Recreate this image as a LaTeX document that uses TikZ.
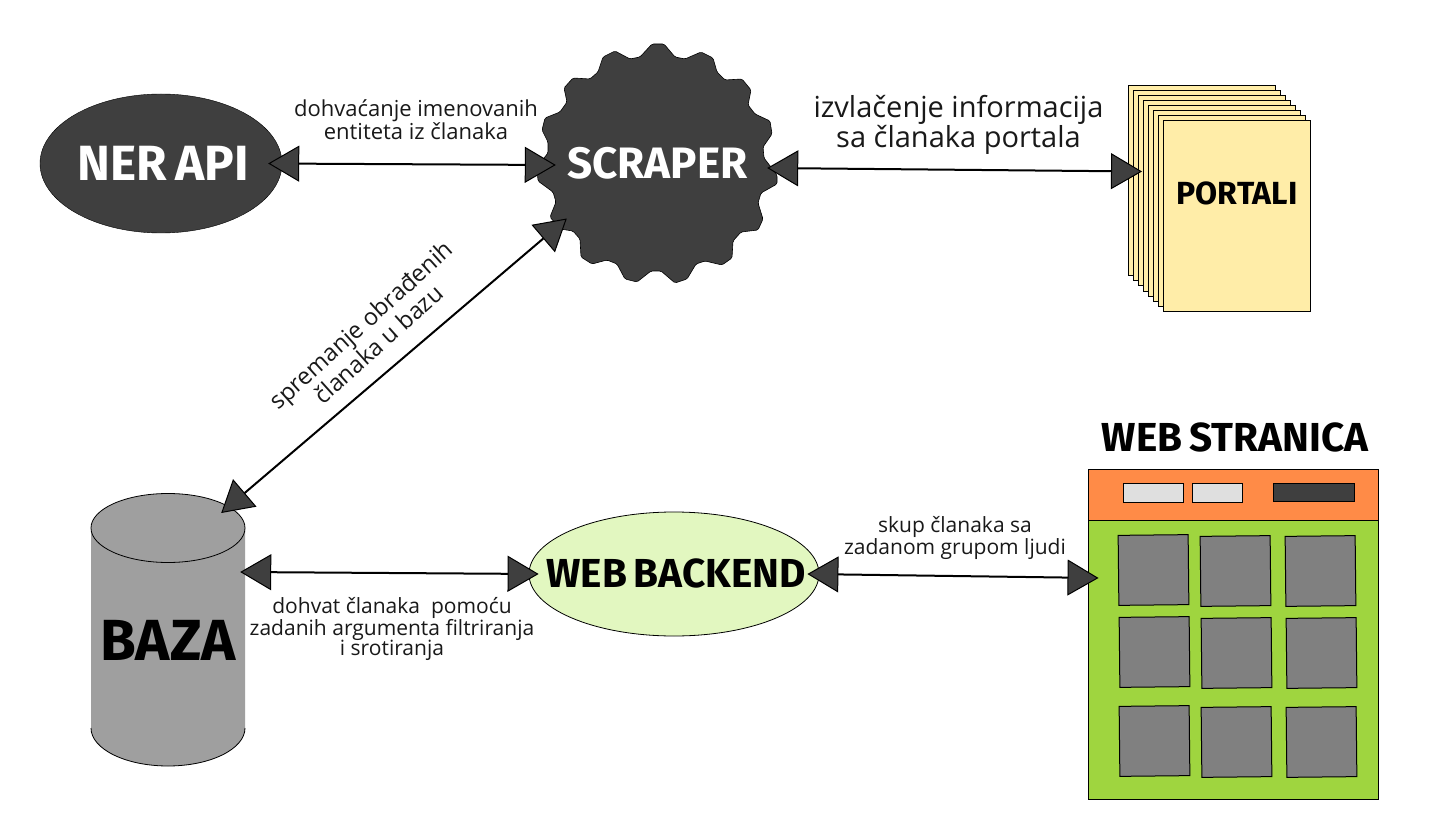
\documentclass[tikz,border=0pt]{standalone}
\usepackage{fontspec}
\setmainfont{Open Sans}
\newfontfamily\headfont{Fira Sans}
\usetikzlibrary{arrows.meta,shapes.geometric}
\definecolor{dk}{HTML}{3F3F3F}
\definecolor{pap}{HTML}{FFEDA8}
\definecolor{orng}{HTML}{FF8B47}
\definecolor{grn}{HTML}{9FD53F}
\definecolor{lgrn}{HTML}{E2F7C0}
\definecolor{cyl}{HTML}{9F9F9F}
\definecolor{btn}{HTML}{DFDFDF}
\definecolor{tile}{HTML}{808080}
\newcommand{\nsp}{\hspace{.17em}}
\tikzset{
  head/.style={font=\headfont\bfseries\fontsize{#1}{#1}\selectfont,inner sep=0pt},
  lbl/.style 2 args={font=\fontsize{#1}{#2}\selectfont,align=center,inner sep=0pt,text=black!90},
  conn/.style={draw=black,line width=2pt,{Triangle[length=31pt,width=36pt,fill=dk,line width=1pt]}-{Triangle[length=31pt,width=36pt,fill=dk,line width=1pt]}},
  sheet/.style={draw=black,fill=pap,line width=1pt},
  tilebox/.style={draw=black,fill=tile,line width=1pt,minimum width=70pt,minimum height=70pt,rotate=0.6,inner sep=0pt},
  btnbox/.style={draw=black,line width=1pt,inner sep=0pt}
}
\begin{document}
\begin{tikzpicture}[x=1pt,y=-1pt]
\useasboundingbox (0,0) rectangle (1449,837);
\fill[white] (0,0) rectangle (1449,837);
% NER
\node[ellipse,draw=black,fill=dk,minimum width=242pt,minimum height=139pt,inner sep=0pt] (ner) at (161,163.5) {};
\node[head=49.5,text=white] (nerlbl) at (163.5,163) {NER\nsp API};
% scraper outline
\fill[dk,draw=black,line width=.6pt,rounded corners=1.5pt]
 (652,44)--(664,44)--(675,57)--(685,59)--(701,52)--(713,58)--(717,72)--(725,80)--(742,79)--(751,90)--(748,105)--(755,114)--(770,121)--(772,134)--(763,147)--(764,158)--(777,175)--(777,184)--(761,193)--(758,203)--(763,219)--(758,230)--(741,232)--(733,241)--(732,258)--(722,265)--(705,261)--(696,264)--(687,279)--(675,283)--(661,271)--(651,271)--(637,282)--(625,279)--(617,264)--(607,260)--(592,264)--(581,257)--(580,239)--(573,231)--(560,229)--(550,217)--(556,202)--(553,192)--(538,181)--(537,167)--(548,153)--(548,142)--(542,130)--(545,118)--(560,112)--(567,102)--(564,88)--(573,78)--(590,79)--(598,72)--(603,57)--(615,51)--(630,59)--(640,57)--cycle;
\node[head=44,text=white,minimum width=231pt,minimum height=239pt] (scraper) at (657.5,163.5) {SCRAPER};
% portals
\foreach \i in {0,...,6}{
  \draw[sheet] ({1128+5*\i},{86+5*\i}) rectangle ({1275.5+5*\i},{276+5*\i});
}
\node[sheet,minimum width=147.5pt,minimum height=190pt,inner sep=0pt,text=black] (portali) at (1236.75,216) {};
\node[head=32,text=black] (portlbl) at (1237,193) {PORTALI};
% baza
\fill[cyl] (91,528) -- (91,728) arc[start angle=180,end angle=0,x radius=77,y radius=38] -- (245,528) -- cycle;
\draw[black,line width=.8pt] (91,728) arc[start angle=180,end angle=0,x radius=77,y radius=38];
\draw[black,fill=cyl,line width=.8pt] (168,528) ellipse[x radius=77,y radius=34.5];
\node[head=58,text=black,minimum width=154pt] (baza) at (168,640) {BAZA};
% backend
\node[ellipse,draw=black,fill=lgrn,minimum width=290pt,minimum height=124pt,line width=.8pt,inner sep=0pt] (backend) at (674,574) {};
\node[head=40.5,text=black] (backlbl) at (676,573) {WEB\nsp BACKEND};
% web page
\node[head=40.5,text=black] (webtitle) at (1235,437) {WEB\nsp STRANICA};
\node[draw=black,fill=grn,line width=1pt,minimum width=290pt,minimum height=330pt,inner sep=0pt] (web) at (1233,634) {};
\node[draw=black,fill=orng,line width=1pt,minimum width=290pt,minimum height=51pt,inner sep=0pt] (bar) at (1233,494.5) {};
\node[btnbox,fill=btn,minimum width=60pt,minimum height=19pt] (b1) at (1153,492.75) {};
\node[btnbox,fill=btn,minimum width=50pt,minimum height=19pt] (b2) at (1217.25,492.75) {};
\node[btnbox,fill=dk,minimum width=81.5pt,minimum height=18pt] (b3) at (1313.75,492.25) {};
\node[tilebox] (t11) at (1153.5,570) {};
\node[tilebox] (t12) at (1235.5,571) {};
\node[tilebox] (t13) at (1320.5,571) {};
\node[tilebox] (t21) at (1154.5,652) {};
\node[tilebox] (t22) at (1236.5,653) {};
\node[tilebox] (t23) at (1321.5,653) {};
\node[tilebox] (t31) at (1154.5,741) {};
\node[tilebox] (t32) at (1236.5,742) {};
\node[tilebox] (t33) at (1321.5,742) {};
% connectors
\draw[conn] ([shift={(-14,0)}]ner.east) -- ([shift={(14,1.5)}]scraper.west);
\draw[conn] ([shift={(-6,4.5)}]scraper.east) -- ([shift={(-20.5,-44.5)}]portali.west);
\draw[conn] ([shift={(-5,-68)}]baza.east) -- ([shift={(10,0)}]backend.west);
\draw[conn] ([shift={(-12,0)}]backend.east) -- ([shift={(11,-56)}]web.west);
\draw[conn] ([shift={(-24,-127)}]baza.east) -- ([shift={(25,55)}]scraper.west);
% labels
\node[lbl={22}{22}] (l1) at (416,120) {dohvaćanje imenovanih\\entiteta iz članaka};
\node[lbl={29}{30}] (l2) at (958.5,125) {izvlačenje informacija\\sa članaka portala};
\node[lbl={23.6}{26},rotate=42] (l3) at (369.5,334.5) {spremanje obrađenih\\članaka u bazu};
\node[lbl={21}{20.5}] (l4) at (955,538) {skup članaka sa\\zadanom grupom ljudi};
\node[lbl={21}{20.5}] (l5) at (392,629) {dohvat članaka\ \ pomoću\\zadanih argumenta filtriranja\\i srotiranja};
\end{tikzpicture}
\end{document}
